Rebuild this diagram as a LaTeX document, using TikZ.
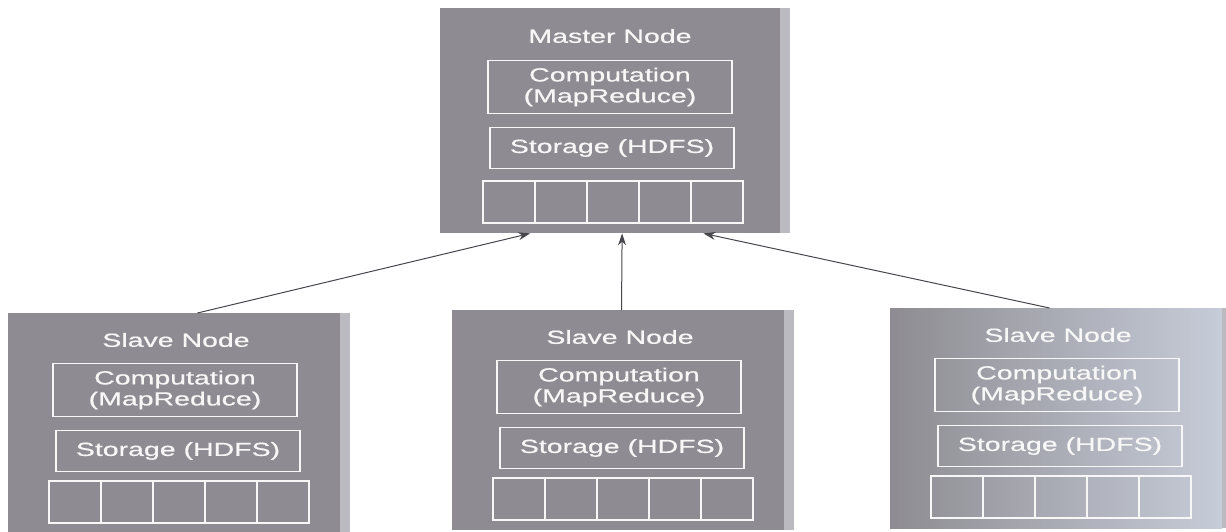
\documentclass[tikz,border=0pt]{standalone}
\usepackage{fontspec}
\setmainfont{Liberation Sans}[FakeStretch=1.5, FakeBold=0.6]
\usetikzlibrary{
    arrows.meta,
    positioning,
    calc
}
\definecolor{boxgray}{RGB}{142,140,146}
\definecolor{bevelgray}{RGB}{186,186,192}
\definecolor{glare}{RGB}{198,204,216}
\definecolor{linkgray}{RGB}{70,70,76}
\tikzstyle{machine} = [
    rectangle,
    fill=boxgray,
    anchor=north west,
    inner sep=0pt,
    minimum width=332pt,
    minimum height=220pt
]
\tikzstyle{headline} = [
    text=white!94!gray,
    inner sep=0pt,
    font=\fontsize{19}{22}\selectfont
]
\tikzstyle{layer} = [
    rectangle,
    draw=white!94!gray,
    line width=1.8pt,
    minimum width=244pt,
    inner sep=0pt,
    text=white!94!gray,
    align=center,
    font=\fontsize{19}{21}\selectfont
]
\tikzstyle{slot} = [
    rectangle,
    draw=white!94!gray,
    line width=1.8pt,
    minimum width=52pt,
    minimum height=42pt,
    inner sep=0pt
]
\tikzstyle{arrow} = [
    -{Stealth[length=12pt, width=8pt]},
    line width=1pt,
    draw=linkgray
]

\begin{document}
\begin{tikzpicture}[x=1pt, y=-1pt]
    \useasboundingbox (0,0) rectangle (1226,531);

    % Master node
    \node[machine, minimum width=340pt, minimum height=225pt] (master) at (440,8) {};
    \fill[bevelgray] (master.north east) rectangle ($(master.south east)+(10,0)$);
    \node[headline] (masterTitle) at ($(master.north west)+(170,28)$) {Master Node};
    \node[layer, minimum height=53pt] (masterComp) at ($(master.north west)+(170,79)$) {Computation\\(MapReduce)};
    \node[layer, minimum height=41pt] (masterStor) at ($(master.north west)+(172,140)$) {Storage (HDFS)};
    \foreach \i in {1,...,5}
        \node[slot] (masterSlot\i) at ($(master.north west)+(17+52*\i, 194)$) {};

    % Slave nodes
    \node[machine] (slaveA) at (8,313) {};
    \node[machine] (slaveB) at (452,310) {};
    \node[machine, left color=boxgray, right color=glare] (slaveC) at (890,308) {};
    \foreach \s in {slaveA, slaveB, slaveC} {
        \fill[bevelgray] (\s.north east) rectangle ($(\s.south east)+(10,0)$);
        \node[headline] (\s Title) at ($(\s.north west)+(168,27)$) {Slave Node};
        \node[layer, minimum height=53pt] (\s Comp) at ($(\s.north west)+(167,77)$) {Computation\\(MapReduce)};
        \node[layer, minimum height=41pt] (\s Stor) at ($(\s.north west)+(170,138)$) {Storage (HDFS)};
        \foreach \i in {1,...,5}
            \node[slot] (\s Slot\i) at ($(\s.north west)+(15+52*\i, 189)$) {};
    }

    % Arrows
    \draw[arrow] ($(slaveA.north west)!0.57!(slaveA.north east)$) -- ($(master.south west)!0.265!(master.south east)$);
    \draw[arrow] ($(slaveB.north west)!0.51!(slaveB.north east)$) -- ($(master.south west)!0.535!(master.south east)$);
    \draw[arrow] ($(slaveC.north west)!0.48!(slaveC.north east)$) -- ($(master.south west)!0.774!(master.south east)$);
\end{tikzpicture}
\end{document}
